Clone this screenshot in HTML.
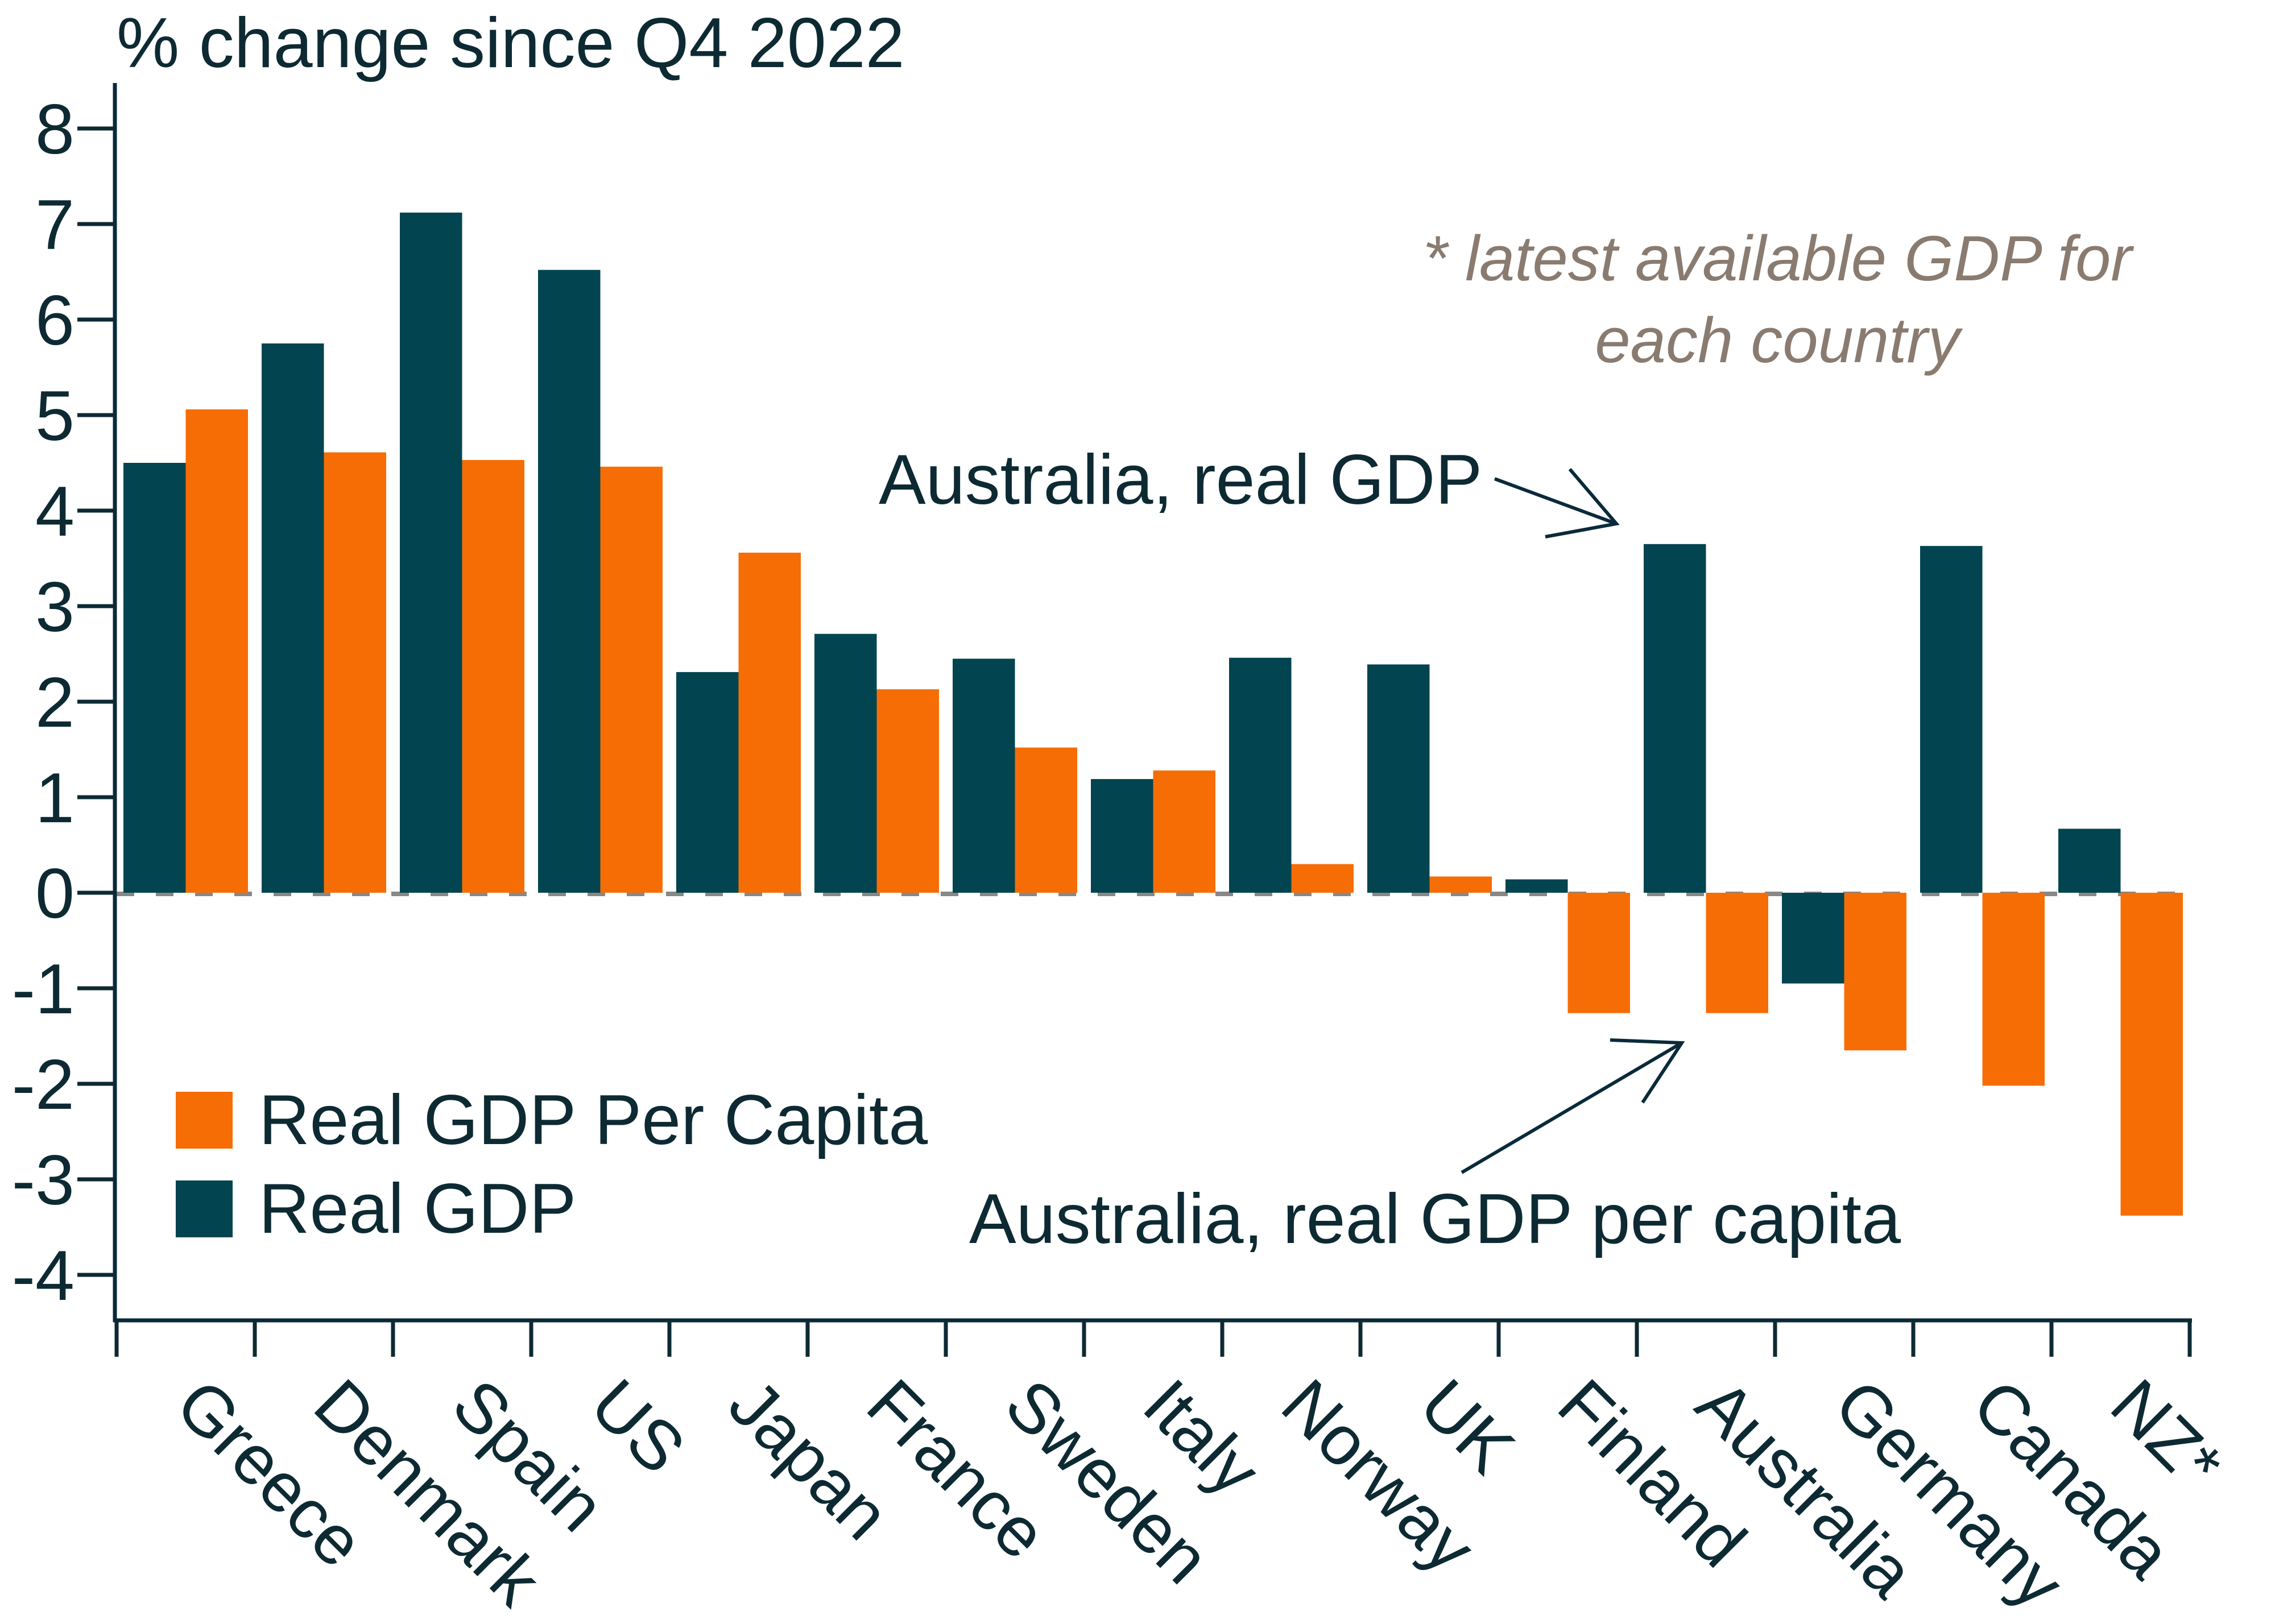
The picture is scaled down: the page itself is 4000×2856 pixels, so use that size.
<!DOCTYPE html>
<html><head><meta charset="utf-8"><style>
html,body{margin:0;padding:0;background:#fff;}
svg{display:block;font-family:"Liberation Sans",Arial,sans-serif;}
</style></head><body>
<svg id="chart" width="4000" height="2856" viewBox="0 0 4000 2856" xmlns="http://www.w3.org/2000/svg">
<rect width="4000" height="2856" fill="#fff"/>
<text x="205" y="118" font-size="124" fill="#0d2a33">% change since Q4 2022</text>
<g id="grid"></g>
<g id="bars"></g>
<g id="axes"></g>
<g id="labels"></g>
<text x="3125" y="493" font-size="112" font-style="italic" fill="#8a7b70" text-anchor="middle">* latest available GDP for</text>
<text x="3125" y="637" font-size="112" font-style="italic" fill="#8a7b70" text-anchor="middle">each country</text>
<text x="1545" y="886" font-size="124" fill="#0d2a33">Australia, real GDP</text>
<g stroke="#0a2a3a" stroke-width="6" fill="none">
<line x1="2628" y1="842" x2="2842" y2="921"/><polyline points="2760,825 2842,921 2717,944"/>
</g>
<text x="1704" y="2186" font-size="124" fill="#0d2a33">Australia, real GDP per capita</text>
<g stroke="#0a2a3a" stroke-width="6" fill="none">
<line x1="2570" y1="2062" x2="2957" y2="1834"/><polyline points="2831,1829 2957,1834 2888,1939"/>
</g>
<rect x="309" y="1920" width="100" height="100" fill="#f76d05"/>
<text x="455" y="2012" font-size="124" fill="#0d2a33">Real GDP Per Capita</text>
<rect x="309" y="2076" width="100" height="100" fill="#02444f"/>
<text x="455" y="2168" font-size="124" fill="#0d2a33">Real GDP</text>
</svg>
<script>
const categories = ["Greece","Denmark","Spain","US","Japan","France","Sweden","Italy","Norway","UK","Finland","Australia","Germany","Canada","NZ*"];
const realGdp = [4.50,5.75,7.12,6.52,2.31,2.71,2.45,1.19,2.46,2.39,0.14,3.65,-0.95,3.63,0.67];
const perCapita = [5.06,4.61,4.53,4.46,3.56,2.13,1.52,1.28,0.30,0.17,-1.26,-1.26,-1.65,-2.02,-3.38];
const yTicks = [8,7,6,5,4,3,2,1,0,-1,-2,-3,-4];

const NS = "http://www.w3.org/2000/svg";
const X0 = 205, PITCH = 243, ZERO = 1570, UNIT = 168;
function yScale(v){ return ZERO - v*UNIT; }
function xGroup(i){ return X0 + i*PITCH; }
function mk(tag, attrs, parent){
  const el = document.createElementNS(NS, tag);
  for (const k in attrs) el.setAttribute(k, attrs[k]);
  parent.appendChild(el);
  return el;
}
const bars = document.getElementById('bars');
const axes = document.getElementById('axes');
const labels = document.getElementById('labels');
const grid = document.getElementById('grid');
const BW = 109.5;

// zero dashed line
const zl = mk('line', {x1:X0, x2:X0+categories.length*PITCH, y1:yScale(0)+2, y2:yScale(0)+2, stroke:'#888', 'stroke-width':8, 'stroke-dasharray':'31 38'}, grid);



categories.forEach((c, i) => {
  const gx = xGroup(i) + 12;
  const v1 = realGdp[i], v2 = perCapita[i];
  const r1 = mk('rect', {x:gx, y:Math.min(yScale(v1), yScale(0)), width:BW, height:Math.abs(yScale(v1)-yScale(0)), fill:'#02444f'}, bars);
  
  
  const r2 = mk('rect', {x:gx+BW, y:Math.min(yScale(v2), yScale(0)), width:BW, height:Math.abs(yScale(v2)-yScale(0)), fill:'#f76d05'}, bars);
  
  
  const cx = xGroup(i) + PITCH/2 - 24;
  const t = mk('text', {x:cx, y:2478, 'font-size':123, fill:'#0d2a33', transform:`rotate(45 ${cx} 2478)`}, labels);
  t.textContent = c;
  
  
});

// axes
const ya = mk('line', {x1:202, x2:202, y1:146, y2:2325, stroke:'#0a2a3a', 'stroke-width':7}, axes);


const xa = mk('line', {x1:199, x2:3850+4, y1:2322, y2:2322, stroke:'#0a2a3a', 'stroke-width':7}, axes);


yTicks.forEach(v => {
  const tk = mk('line', {x1:136, x2:202, y1:yScale(v), y2:yScale(v), stroke:'#0d2a33', 'stroke-width':7}, axes);
  
  
  const tl = mk('text', {x:131, y:yScale(v)+44, 'font-size':124, fill:'#0d2a33', 'text-anchor':'end'}, axes);
  tl.textContent = String(v);
  
  
});
for (let i = 0; i <= categories.length; i++) {
  const tk = mk('line', {x1:xGroup(i), x2:xGroup(i), y1:2322, y2:2386, stroke:'#0d2a33', 'stroke-width':7}, axes);
  
  
}
</script>
</body></html>
